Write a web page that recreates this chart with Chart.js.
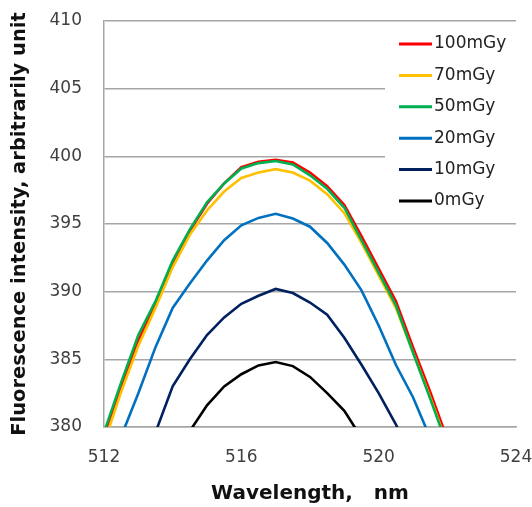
<!DOCTYPE html>
<html>
<head>
<meta charset="utf-8">
<script src="https://cdn.jsdelivr.net/npm/chart.js@4.4.1/dist/chart.umd.min.js"></script>
<style>
    html, body { margin: 0; padding: 0; background: #fff; }
    #wrap { width: 532px; height: 507px; position: relative; }
</style>
</head>
<body>
<div id="wrap"><canvas id="chartSpectra"></canvas></div>
<script>
// Wavelength samples (nm)
const wavelengths = [512, 512.5, 513, 513.5, 514, 514.5, 515, 515.5, 516, 516.5, 517,
    517.5, 518, 518.5, 519, 519.5, 520, 520.5, 521, 521.5, 522];

// Fluorescence intensity per dose
const dose100 = [379.3, 383.0, 386.4, 389.1, 392.1, 394.5, 396.5, 398.0, 399.2, 399.6, 399.75,
    399.55, 398.8, 397.8, 396.4, 394.1, 391.7, 389.3, 385.9, 382.6, 379.1];
const dose70 = [378.8, 382.6, 386.0, 388.8, 391.8, 394.2, 396.0, 397.4, 398.4, 398.8, 399.05,
    398.8, 398.2, 397.2, 395.8, 393.6, 391.2, 388.8, 385.5, 382.2, 378.7];
const dose50 = [379.6, 383.3, 386.8, 389.3, 392.3, 394.6, 396.6, 398.0, 399.1, 399.5, 399.65,
    399.4, 398.6, 397.6, 396.2, 393.8, 391.4, 389.0, 385.5, 382.1, 378.6];
const dose20 = [null, 379.3, 382.5, 385.9, 388.8, 390.6, 392.3, 393.8, 394.9, 395.45, 395.75,
    395.4, 394.8, 393.6, 392.0, 390.1, 387.5, 384.6, 382.2, 379.2, null];
const dose10 = [null, null, null, 379.6, 383.0, 385.0, 386.8, 388.1, 389.1, 389.7, 390.2,
    389.9, 389.2, 388.3, 386.6, 384.6, 382.5, 380.2, 377.5, null, null];
const dose0 = [null, null, null, null, null, 379.7, 381.6, 383.0, 383.9, 384.55, 384.8,
    384.5, 383.7, 382.5, 381.2, 379.2, null, null, null, null, null];

const seriesLabels = ['100mGy', '70mGy', '50mGy', '20mGy', '10mGy', '0mGy'];
const seriesData = [dose100, dose70, dose50, dose20, dose10, dose0];
const seriesColors = ['#FF0000', '#FFC000', '#00B050', '#0070C0', '#002060', '#000000'];

const FONT = 'DejaVu Sans';
const GRID = '#a6a6a6';

// legend drawn by hand, boxed over the upper-right gridlines
const legendBox = {
    id: 'legendBox',
    beforeDatasetsDraw(chart) {
        const ctx = chart.ctx;
        ctx.save();
        ctx.fillStyle = '#fff';
        ctx.fillRect(385, 23, 131, 192);
        ctx.font = '17px "' + FONT + '"';
        ctx.textBaseline = 'middle';
        seriesLabels.forEach((lab, i) => {
            const y = 44 + i * 31.4;
            ctx.strokeStyle = seriesColors[i];
            ctx.lineWidth = 3;
            ctx.beginPath();
            ctx.moveTo(399, y);
            ctx.lineTo(432, y);
            ctx.stroke();
            ctx.fillStyle = '#222';
            ctx.fillText(lab, 434, y);
        });
        ctx.restore();
    }
};

// reversed so that 50mGy sits on top of 70mGy and 100mGy
const datasets = seriesLabels.map((lab, i) => ({
    label: lab,
    data: wavelengths.map((w, j) => ({ x: w, y: seriesData[i][j] })),
    borderColor: seriesColors[i],
    borderWidth: 2.6,
    pointRadius: 0,
    tension: 0,
    spanGaps: false
})).reverse();

new Chart(document.getElementById('chartSpectra').getContext('2d'), {
    type: 'line',
    data: { datasets: datasets },
    options: {
        responsive: true,
        maintainAspectRatio: false,
        animation: false,
        layout: { padding: { left: 0, right: 16, top: 21, bottom: 0 } },
        plugins: { legend: { display: false }, tooltip: { enabled: false } },
        scales: {
            x: {
                type: 'linear',
                min: 512, max: 524,
                afterFit: s => { s.height = 80; s.paddingLeft = 0; s.paddingRight = 0; },
                grid: { display: false, drawTicks: false },
                border: { display: true, color: GRID, width: 1.5 },
                ticks: { stepSize: 4, padding: 20, color: '#404040', font: { family: FONT, size: 17 } },
                title: {
                    display: true, text: 'Wavelength,   nm', color: '#111',
                    font: { family: FONT, size: 20, weight: 'bold' },
                    padding: { top: 0, bottom: 1 }
                }
            },
            y: {
                min: 380, max: 410,
                afterFit: s => { s.width = 104; s.paddingTop = 0; s.paddingBottom = 0; },
                grid: { color: GRID, lineWidth: 1.5, drawTicks: false },
                border: { display: true, color: GRID, width: 1.5 },
                ticks: { stepSize: 5, padding: 22, color: '#404040', font: { family: FONT, size: 17 } },
                title: {
                    display: true, text: 'Fluorescence intensity, arbitrarily unit', color: '#111',
                    font: { family: FONT, size: 19.5, weight: 'bold' },
                    padding: { top: 8, bottom: 0 }
                }
            }
        }
    },
    plugins: [legendBox]
});
</script>
</body>
</html>
